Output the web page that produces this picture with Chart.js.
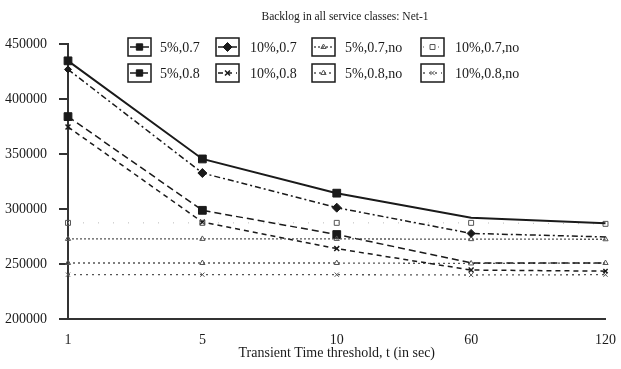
<!DOCTYPE html>
<html><head><meta charset="utf-8">
<script src="https://cdn.jsdelivr.net/npm/chart.js@4/dist/chart.umd.min.js"></script>
<style>html,body{margin:0;padding:0;background:#fff}#wrap{width:621px;height:369px}</style>
</head><body><div id="wrap"><canvas id="c" width="621" height="369"></canvas></div>
<script>
const categories = ["1", "5", "10", "60", "120"];
const yTicks = [200000, 250000, 300000, 350000, 400000, 450000];
const s5_07 = [434700, 345500, 314400, 292000, 287000];
const s10_07 = [426900, 332700, 301200, 277800, 274600];
const s5_07_no = [272800, 272800, 272800, 272600, 272500];
const s10_07_no = [287400, 287400, 287400, 287400, 286500];
const s5_08 = [384000, 298800, 276800, 251000, 250900];
const s10_08 = [374600, 288100, 264000, 244500, 243500];
const s5_08_no = [250900, 250900, 250900, 250500, 250900];
const s10_08_no = [240300, 240300, 240300, 240000, 240300];
const seriesLabels = ["5%,0.7", "10%,0.7", "5%,0.7,no", "10%,0.7,no", "5%,0.8", "10%,0.8", "5%,0.8,no", "10%,0.8,no"];
const titleText = "Backlog in all service classes: Net-1";
const xTitleText = "Transient Time threshold, t (in sec)";

const FONT = '"Liberation Serif", "DejaVu Serif", serif';
const INK = '#1a1a1a';
const GREY = '#555';

function ds(label, data, st) {
  return Object.assign({
    label, data,
    borderColor: INK, backgroundColor: INK,
    pointBackgroundColor: INK, pointBorderColor: INK,
    borderWidth: 1.5, pointBorderWidth: 1, tension: 0, fill: false
  }, st);
}

const datasets = [
  ds(seriesLabels[0], s5_07, {borderWidth: 2, borderDash: [], pointStyle: 'rect', pointRadius: [5.5, 5.5, 5.5, 0, 0]}),
  ds(seriesLabels[1], s10_07, {borderDash: [6, 3, 2, 3], pointStyle: 'rectRot', pointRadius: [3.5, 4.5, 4.5, 4, 0]}),
  ds(seriesLabels[2], s5_07_no, {borderColor: GREY, borderWidth: 1.3, borderDash: [2, 2], pointStyle: 'triangle', pointRadius: 3, pointBackgroundColor: 'rgba(0,0,0,0)', pointBorderColor: GREY}),
  ds(seriesLabels[3], s10_07_no, {borderColor: '#bbb', borderWidth: 1, borderDash: [1, 14], pointStyle: 'rect', pointRadius: 3.5, pointBackgroundColor: 'rgba(0,0,0,0)', pointBorderColor: GREY}),
  ds(seriesLabels[4], s5_08, {borderDash: [7, 4], pointStyle: 'rect', pointRadius: [5.5, 5.5, 5.5, 0, 0]}),
  ds(seriesLabels[5], s10_08, {borderDash: [5, 4], pointStyle: 'crossRot', pointRadius: [3.5, 3.5, 3.5, 3.5, 3], pointBorderWidth: 1.5}),
  ds(seriesLabels[6], s5_08_no, {borderColor: GREY, borderWidth: 1.3, borderDash: [2, 3], pointStyle: 'triangle', pointRadius: 3, pointBackgroundColor: 'rgba(0,0,0,0)', pointBorderColor: GREY}),
  ds(seriesLabels[7], s10_08_no, {borderColor: GREY, borderWidth: 1.3, borderDash: [2, 4], pointStyle: 'crossRot', pointRadius: 3, pointBackgroundColor: 'rgba(0,0,0,0)', pointBorderColor: GREY})
];

const decor = {
  id: 'decor',
  afterDraw(chart) {
    const ctx = chart.ctx;
    // title
    ctx.save();
    ctx.fillStyle = INK;
    ctx.font = '11.5px ' + FONT;
    ctx.textAlign = 'center'; ctx.textBaseline = 'middle';
    ctx.fillText(titleText, 345, 17);
    ctx.restore();
    // boxed legend
    const boxX = [128, 216, 312, 421];
    const labelX = [160, 250, 345, 455];
    const boxY = [38, 64];
    const bw = 23, bh = 18;
    chart.data.datasets.forEach((d, i) => {
      const col = i % 4, row = Math.floor(i / 4);
      const bx = boxX[col], by = boxY[row], cy = by + bh / 2;
      ctx.save();
      ctx.fillStyle = '#fff';
      ctx.fillRect(bx, by, bw, bh);
      ctx.setLineDash([]);
      ctx.strokeStyle = INK; ctx.lineWidth = 1.5;
      ctx.strokeRect(bx, by, bw, bh);
      ctx.beginPath();
      ctx.setLineDash(d.borderDash || []);
      ctx.lineWidth = Math.min(d.borderWidth, 1.5); ctx.strokeStyle = d.borderColor === '#bbb' ? GREY : d.borderColor;
      ctx.moveTo(bx + 2, cy); ctx.lineTo(bx + bw - 2, cy); ctx.stroke();
      ctx.setLineDash([]);
      ctx.fillStyle = d.pointBackgroundColor; ctx.strokeStyle = d.pointBorderColor;
      ctx.lineWidth = d.pointBorderWidth;
      const r = Array.isArray(d.pointRadius) ? d.pointRadius[1] : d.pointRadius;
      Chart.helpers.drawPoint(ctx, {pointStyle: d.pointStyle, radius: Math.min(Math.max(r, 3), 4.5), borderWidth: d.pointBorderWidth, rotation: 0}, bx + bw / 2, cy);
      ctx.fillStyle = INK;
      ctx.font = '14px ' + FONT;
      ctx.textBaseline = 'middle'; ctx.textAlign = 'left';
      ctx.fillText(d.label, labelX[col], cy + 1);
      ctx.restore();
    });
  }
};

new Chart(document.getElementById('c'), {
  type: 'line',
  data: {labels: categories, datasets},
  plugins: [decor],
  options: {
    responsive: false, animation: false, devicePixelRatio: 1,
    layout: {padding: {left: 0, right: 13, top: 44, bottom: 0}},
    plugins: {
      legend: {display: false},
      tooltip: {enabled: false},
      title: {display: false}
    },
    scales: {
      x: {
        type: 'category', offset: false,
        grid: {display: false},
        border: {display: true, color: '#333', width: 2},
        ticks: {color: INK, font: {family: FONT, size: 14}, padding: 5, maxRotation: 0, autoSkip: false},
        title: {display: true, text: xTitleText, color: INK, font: {family: FONT, size: 14}, padding: {top: 2, bottom: 7}},
        afterFit(s) { s.height = 50; }
      },
      y: {
        min: yTicks[0], max: yTicks[yTicks.length - 1],
        afterBuildTicks(s) { s.ticks = yTicks.map(v => ({value: v})); },
        grid: {display: true, drawOnChartArea: false, drawTicks: true, tickLength: 9, color: '#333', lineWidth: 2},
        border: {display: true, color: '#333', width: 2},
        ticks: {color: INK, font: {family: FONT, size: 14}, padding: 12, callback: v => String(v)},
        afterFit(s) { s.width = 68; }
      }
    }
  }
});
</script></body></html>
